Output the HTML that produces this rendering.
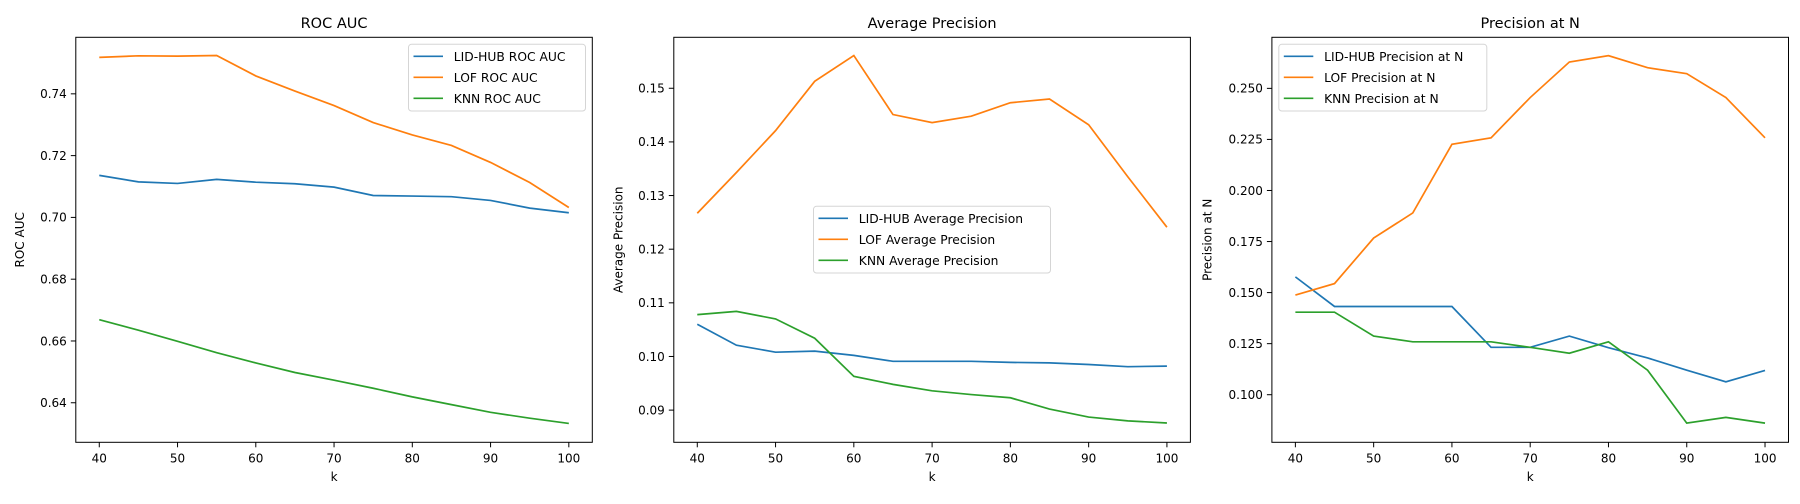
<!DOCTYPE html>
<html><head><meta charset="utf-8"><style>
body{margin:0;background:#fff;font-family:"DejaVu Sans","Liberation Sans",sans-serif}
svg text{font-family:"DejaVu Sans","Liberation Sans",sans-serif;fill:#000}
</style></head><body>
<svg id="chart" width="1800" height="500" xmlns="http://www.w3.org/2000/svg"></svg>
<script>
const ks=[40,45,50,55,60,65,70,75,80,85,90,95,100];
const xTicks=[40,50,60,70,80,90,100];
const rocLid=[0.7136,0.7115,0.711,0.7123,0.7114,0.7109,0.7098,0.7071,0.7069,0.7067,0.7055,0.703,0.7015];
const rocLof=[0.7518,0.7523,0.7522,0.7524,0.7458,0.7409,0.7362,0.7307,0.7267,0.7233,0.7178,0.7113,0.7032];
const rocKnn=[0.6669,0.6635,0.6599,0.6562,0.6529,0.6498,0.6473,0.6447,0.6419,0.6394,0.6369,0.635,0.6333];
const apLid=[0.106,0.1021,0.1008,0.101,0.1002,0.0991,0.0991,0.0991,0.0989,0.0988,0.0985,0.0981,0.0982];
const apLof=[0.1267,0.1343,0.1421,0.1513,0.1561,0.1451,0.1436,0.1448,0.1473,0.148,0.1432,0.1335,0.1241];
const apKnn=[0.1078,0.1084,0.107,0.1034,0.0963,0.0948,0.0936,0.0929,0.0923,0.0902,0.0887,0.088,0.0876];
const panLid=[0.1577,0.1432,0.1432,0.1432,0.1432,0.1232,0.1232,0.1287,0.123,0.118,0.112,0.1063,0.1119];
const panLof=[0.1488,0.1544,0.1767,0.189,0.2226,0.2258,0.2455,0.2629,0.266,0.2601,0.2572,0.2455,0.2258];
const panKnn=[0.1404,0.1404,0.1287,0.1259,0.1259,0.1259,0.1232,0.1203,0.1259,0.112,0.0861,0.0889,0.0861];
const rocTicks=[0.64,0.66,0.68,0.70,0.72,0.74];
const apTicks=[0.09,0.10,0.11,0.12,0.13,0.14,0.15];
const panTicks=[0.1,0.125,0.15,0.175,0.2,0.225,0.25];
const colors=['#1f77b4','#ff7f0e','#2ca02c'];
const NS='http://www.w3.org/2000/svg';
const svg=document.getElementById('chart');
function el(tag,attrs,parent){const e=document.createElementNS(NS,tag);for(const k in attrs)e.setAttribute(k,attrs[k]);(parent||svg).appendChild(e);return e;}
const panels=[
 {name:'roc',title:'ROC AUC',ylabel:'ROC AUC',left:75.8,right:592.3,ymin:0.6272,ymax:0.7583,ticks:rocTicks,dec:2,series:[rocLid,rocLof,rocKnn],labels:['LID-HUB ROC AUC','LOF ROC AUC','KNN ROC AUC'],lx:408.5,ly:44.3,lw:177,ylx:20},
 {name:'ap',title:'Average Precision',ylabel:'Average Precision',left:673.8,right:1190.4,ymin:0.084,ymax:0.1595,ticks:apTicks,dec:2,series:[apLid,apLof,apKnn],labels:['LID-HUB Average Precision','LOF Average Precision','KNN Average Precision'],lx:813.5,ly:206.3,lw:237,ylx:618.5},
 {name:'pan',title:'Precision at N',ylabel:'Precision at N',left:1271.9,right:1788.5,ymin:0.0767,ymax:0.275,ticks:panTicks,dec:3,series:[panLid,panLof,panKnn],labels:['LID-HUB Precision at N','LOF Precision at N','KNN Precision at N'],lx:1278.8,ly:44.3,lw:208,ylx:1207.7}
];
const plotTop=37.3,plotBottom=442.3;
panels.forEach(p=>{
 const g=el('g',{});
 
 
 const w=p.right-p.left;
 const pad=w*3/66;
 const xs=v=>p.left+pad+(v-40)/60*(w-2*pad);
 const ys=v=>plotBottom-(v-p.ymin)/(p.ymax-p.ymin)*(plotBottom-plotTop);
 xTicks.forEach(t=>{const x=xs(t);el('line',{x1:x,x2:x,y1:plotBottom,y2:plotBottom+5,stroke:'#000','stroke-width':1},g);
  const tx=el('text',{x:x,y:plotBottom+20,'text-anchor':'middle','font-size':12},g);tx.textContent=t;
  });
 p.ticks.forEach(t=>{const y=ys(t);el('line',{x1:p.left-5,x2:p.left,y1:y,y2:y,stroke:'#000','stroke-width':1},g);
  const tx=el('text',{x:p.left-9,y:y+4.3,'text-anchor':'end','font-size':12},g);tx.textContent=t.toFixed(p.dec);
  });
 p.series.forEach((s,i)=>{
  const pl=el('polyline',{points:s.map((v,j)=>xs(ks[j])+','+ys(v)).join(' '),fill:'none',stroke:colors[i],'stroke-width':1.7},g);
  
  
 });
 el('rect',{x:p.left,y:plotTop,width:w,height:plotBottom-plotTop,fill:'none',stroke:'#000','stroke-width':1},g);
 const tt=el('text',{x:p.left+w/2,y:28,'text-anchor':'middle','font-size':14.5},g);tt.textContent=p.title;
 
 const xl=el('text',{x:p.left+w/2,y:481,'text-anchor':'middle','font-size':12},g);xl.textContent='k';
 
 const yl=el('text',{x:0,y:0,'text-anchor':'middle','font-size':12,transform:`translate(${p.ylx+4},${(plotTop+plotBottom)/2}) rotate(-90)`},g);yl.textContent=p.ylabel;
 
 const lg=el('g',{},g);
 
 el('rect',{x:p.lx,y:p.ly,width:p.lw,height:66.7,rx:3,fill:'#fff','fill-opacity':0.8,stroke:'#d5d5d5'},lg);
 p.labels.forEach((l,i)=>{const yy=p.ly+12+i*21;
  el('line',{x1:p.lx+5,x2:p.lx+34.5,y1:yy,y2:yy,stroke:colors[i],'stroke-width':1.7},lg);
  const t=el('text',{x:p.lx+45.3,y:yy+4.5,'font-size':12.3},lg);t.textContent=l;
  });
});
</script>
</body></html>
